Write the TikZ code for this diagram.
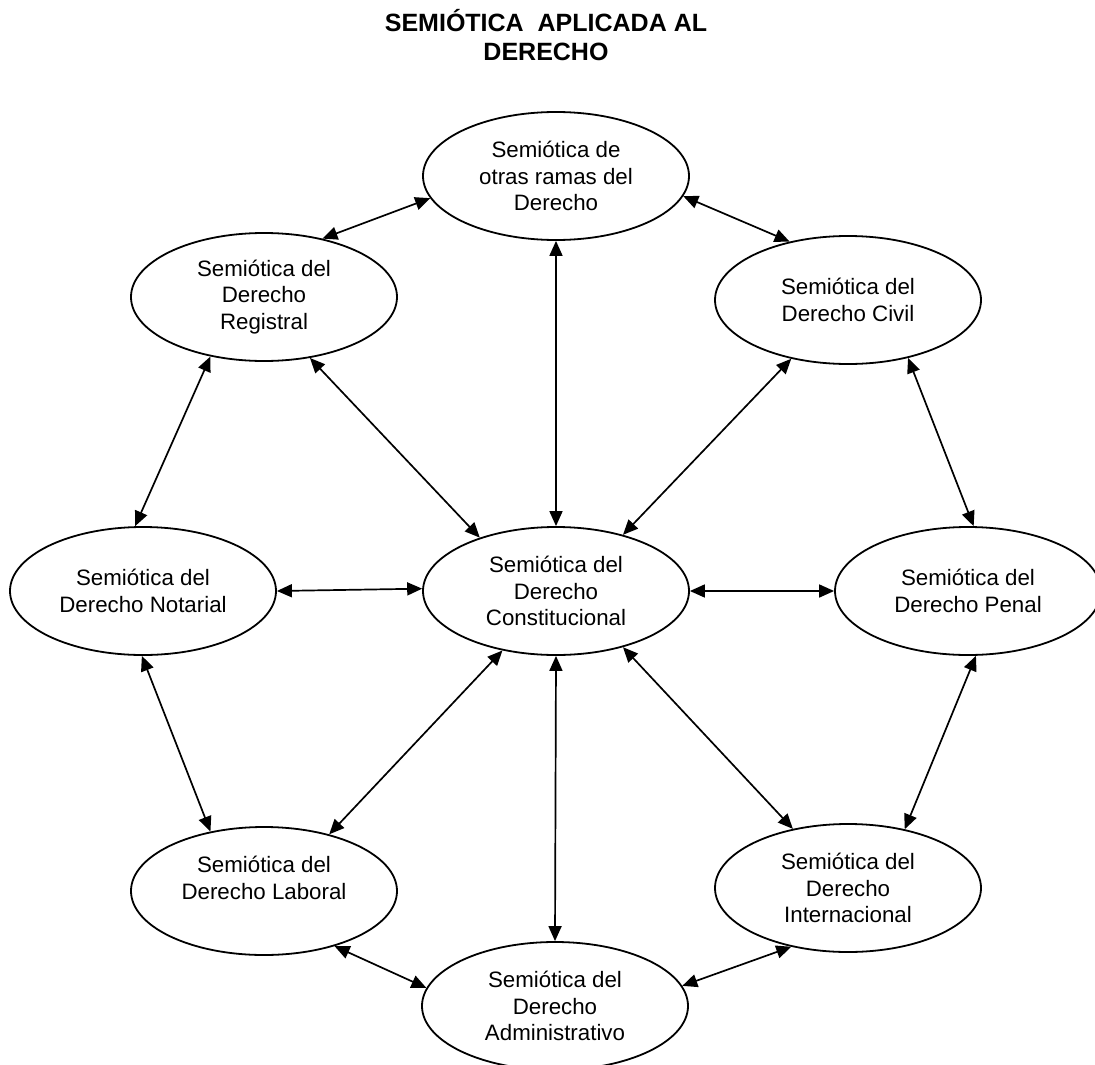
\documentclass[tikz,border=0pt]{standalone}
\usepackage{fontspec}
\setmainfont{Liberation Sans}
\usetikzlibrary{shapes.geometric,arrows.meta}

\begin{document}
\begin{tikzpicture}[x=1pt,y=1pt,
        rama/.style={draw,ellipse,line width=1.8pt,minimum width=266pt,minimum height=128pt,
            inner sep=0pt,align=center,font=\fontsize{22.3}{26.5}\selectfont},
        enlace/.style={{Triangle[length=15pt,width=13pt]}-{Triangle[length=15pt,width=13pt]},line width=1.7pt}]
        \useasboundingbox (0,0) rectangle (1095,-1065);
        \clip (0,0) rectangle (1095,-1065); % page cuts the outer ellipses

        \node[font=\bfseries\fontsize{25}{28.5}\selectfont,align=center] (titulo) at (546,-35) {SEMIÓTICA\ \ APLICADA AL\\DERECHO};

        % ramas
        \node[rama] (otras) at (556,-176) {Semiótica de\\otras ramas del\\Derecho};
        \node[rama] (registral) at (264,-297) {Semiótica del\\Derecho\\Registral};
        \node[rama] (civil) at (848,-300) {Semiótica del\\Derecho Civil};
        \node[rama] (notarial) at (143,-591) {Semiótica del\\Derecho Notarial};
        \node[rama] (constitucional) at (556,-591) {Semiótica del\\Derecho\\Constitucional};
        \node[rama] (penal) at (968,-591) {Semiótica del\\Derecho Penal};
        \node[rama] (laboral) at (264,-891) {Semiótica del\\Derecho Laboral\\~};
        \node[rama] (internacional) at (848,-888) {Semiótica del\\Derecho\\Internacional};
        \node[rama] (administrativo) at (555,-1006) {Semiótica del\\Derecho\\Administrativo};

        % enlaces en el anillo
        \draw[enlace] (otras.190) -- (registral.45);
        \draw[enlace] (otras.-9) -- (civil.135);
        \draw[enlace] (registral.228) -- (notarial.97);
        \draw[enlace] (civil.-44) -- (penal.85);
        \draw[enlace] (notarial.269) -- (laboral.132);
        \draw[enlace] (penal.-83) -- (internacional.46);
        \draw[enlace] (laboral.-38) -- (administrativo.172);
        \draw[enlace] (internacional.226) -- (administrativo.9);

        % enlaces al centro
        \draw[enlace] (otras.south) -- (constitucional.north);
        \draw[enlace] (registral.-53) -- (constitucional.145);
        \draw[enlace] (civil.226) -- (constitucional.40);
        \draw[enlace] (notarial.east) -- (constitucional.179);
        \draw[enlace] (constitucional.east) -- (penal.west);
        \draw[enlace] (constitucional.228) -- (laboral.41);
        \draw[enlace] (constitucional.south) -- (administrativo.north);
        \draw[enlace] (constitucional.-40) -- (internacional.133);
    \end{tikzpicture}
\end{document}
